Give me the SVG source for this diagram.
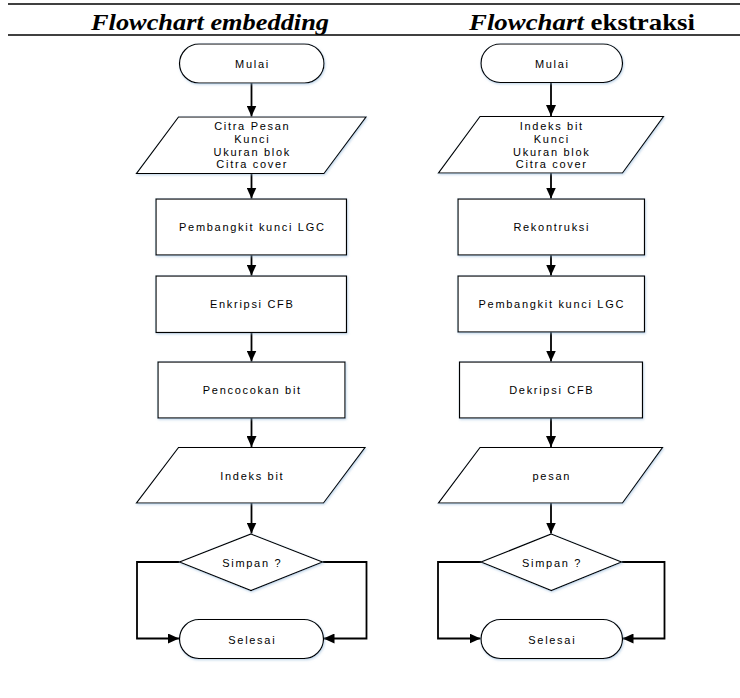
<svg xmlns="http://www.w3.org/2000/svg" width="740" height="698" viewBox="0 0 740 698">
<style>
  .shape { fill: #ffffff; stroke: #000000; stroke-width: 1.2; filter: url(#sh); }
  .lbl { font-family: "Liberation Sans", Arial, sans-serif; font-size: 11px; letter-spacing: 1.7px; fill: #000; text-anchor: middle; }
  .hdr { font-family: "Liberation Serif", "Times New Roman", serif; font-size: 24px; font-weight: bold; fill: #000; }
  .conn { fill: none; stroke: #000; stroke-width: 1.8; }
  .rule { stroke: #000; stroke-width: 1.6; }
</style>
<defs>
  <marker id="ah" markerUnits="userSpaceOnUse" markerWidth="12" markerHeight="10" refX="11" refY="5" orient="auto">
    <path d="M0,0 L11,5 L0,10 Z" fill="#000"/>
  </marker>
  <filter id="sh" x="-10%" y="-10%" width="120%" height="130%">
    <feDropShadow dx="0.8" dy="1.2" stdDeviation="1" flood-color="#8fb4d8" flood-opacity="0.55"/>
  </filter>
</defs>
<rect width="740" height="698" fill="#ffffff"/>

<g id="header">
  <line class="rule" x1="8" y1="4" x2="740" y2="4"/>
  <line class="rule" x1="8" y1="35" x2="740" y2="35"/>
  <text class="hdr" x="91" y="29.5" font-style="italic" textLength="238" lengthAdjust="spacingAndGlyphs">Flowchart embedding</text>
  <text class="hdr" x="469" y="29.5" textLength="226" lengthAdjust="spacingAndGlyphs"><tspan font-style="italic">Flowchart</tspan> ekstraksi</text>
</g>

<g id="connectors">
  <!-- left column -->
  <line class="conn" x1="251.5" y1="83" x2="251.5" y2="116.5" marker-end="url(#ah)"/>
  <line class="conn" x1="251.5" y1="173.5" x2="251.5" y2="198.5" marker-end="url(#ah)"/>
  <line class="conn" x1="251.5" y1="255" x2="251.5" y2="275.5" marker-end="url(#ah)"/>
  <line class="conn" x1="251.5" y1="332.5" x2="251.5" y2="361.5" marker-end="url(#ah)"/>
  <line class="conn" x1="251.5" y1="418" x2="251.5" y2="447" marker-end="url(#ah)"/>
  <line class="conn" x1="251.5" y1="503" x2="251.5" y2="533.5" marker-end="url(#ah)"/>
  <polyline class="conn" points="179.5,562 137,562 137,638.5 179,638.5" marker-end="url(#ah)"/>
  <polyline class="conn" points="322.5,562 366.5,562 366.5,638.5 323.5,638.5" marker-end="url(#ah)"/>
  <!-- right column -->
  <line class="conn" x1="551" y1="82.5" x2="551" y2="116" marker-end="url(#ah)"/>
  <line class="conn" x1="551" y1="173" x2="551" y2="198.5" marker-end="url(#ah)"/>
  <line class="conn" x1="551" y1="255" x2="551" y2="275.5" marker-end="url(#ah)"/>
  <line class="conn" x1="551" y1="332" x2="551" y2="361.5" marker-end="url(#ah)"/>
  <line class="conn" x1="551" y1="418" x2="551" y2="447" marker-end="url(#ah)"/>
  <line class="conn" x1="551" y1="503" x2="551" y2="533.5" marker-end="url(#ah)"/>
  <polyline class="conn" points="481,562 438,562 438,638.5 480.5,638.5" marker-end="url(#ah)"/>
  <polyline class="conn" points="621.5,562 664.5,562 664.5,638.5 622.5,638.5" marker-end="url(#ah)"/>
</g>

<!-- Left flowchart -->
<g id="l-mulai">
  <rect class="shape" x="179.5" y="44" width="144.5" height="39" rx="19.5" ry="19.5"/>
  <text class="lbl" x="252.5" y="68">Mulai</text>
</g>
<g id="l-input">
  <polygon class="shape" points="178.5,117 366,117 324,173.5 136.5,173.5"/>
  <text class="lbl" x="252.3" y="130">Citra Pesan</text>
  <text class="lbl" x="252.3" y="143">Kunci</text>
  <text class="lbl" x="252.3" y="155.7">Ukuran blok</text>
  <text class="lbl" x="252.3" y="168.3">Citra cover</text>
</g>
<g id="l-lgc">
  <rect class="shape" x="156" y="199" width="190.5" height="56"/>
  <text class="lbl" x="252.3" y="231">Pembangkit kunci LGC</text>
</g>
<g id="l-enkripsi">
  <rect class="shape" x="156" y="276" width="190.5" height="56.5"/>
  <text class="lbl" x="252.3" y="308">Enkripsi CFB</text>
</g>
<g id="l-pencocokan">
  <rect class="shape" x="158" y="362" width="187" height="56"/>
  <text class="lbl" x="252.3" y="394">Pencocokan bit</text>
</g>
<g id="l-indeks">
  <polygon class="shape" points="178.5,447.5 365,447.5 323.5,503 136.5,503"/>
  <text class="lbl" x="252.3" y="480">Indeks bit</text>
</g>
<g id="l-simpan">
  <polygon class="shape" points="251,534 322.5,562 251,590.5 179.5,562"/>
  <text class="lbl" x="252.3" y="566.5">Simpan ?</text>
</g>
<g id="l-selesai">
  <rect class="shape" x="179.5" y="619.5" width="144" height="39" rx="19.5" ry="19.5"/>
  <text class="lbl" x="252.3" y="644">Selesai</text>
</g>

<!-- Right flowchart -->
<g id="r-mulai">
  <rect class="shape" x="481" y="44" width="141.5" height="38.5" rx="19.25" ry="19.25"/>
  <text class="lbl" x="552.3" y="68">Mulai</text>
</g>
<g id="r-input">
  <polygon class="shape" points="480,116.5 663.5,116.5 622.5,173 438.5,173"/>
  <text class="lbl" x="551.8" y="130">Indeks bit</text>
  <text class="lbl" x="551.8" y="143">Kunci</text>
  <text class="lbl" x="551.8" y="155.7">Ukuran blok</text>
  <text class="lbl" x="551.8" y="168.3">Citra cover</text>
</g>
<g id="r-rekontruksi">
  <rect class="shape" x="458" y="199" width="186.5" height="56"/>
  <text class="lbl" x="551.8" y="231">Rekontruksi</text>
</g>
<g id="r-lgc">
  <rect class="shape" x="458" y="276" width="186.5" height="56"/>
  <text class="lbl" x="551.8" y="308">Pembangkit kunci LGC</text>
</g>
<g id="r-dekripsi">
  <rect class="shape" x="459.5" y="362" width="183" height="56"/>
  <text class="lbl" x="551.8" y="394">Dekripsi CFB</text>
</g>
<g id="r-pesan">
  <polygon class="shape" points="480,447.5 662.5,447.5 622.5,503 438.5,503"/>
  <text class="lbl" x="551.8" y="480">pesan</text>
</g>
<g id="r-simpan">
  <polygon class="shape" points="551.3,534 621.5,562 551.3,590.5 481,562"/>
  <text class="lbl" x="552.1" y="566.5">Simpan ?</text>
</g>
<g id="r-selesai">
  <rect class="shape" x="481" y="619.5" width="141.5" height="39" rx="19.5" ry="19.5"/>
  <text class="lbl" x="552.3" y="644">Selesai</text>
</g>
</svg>
